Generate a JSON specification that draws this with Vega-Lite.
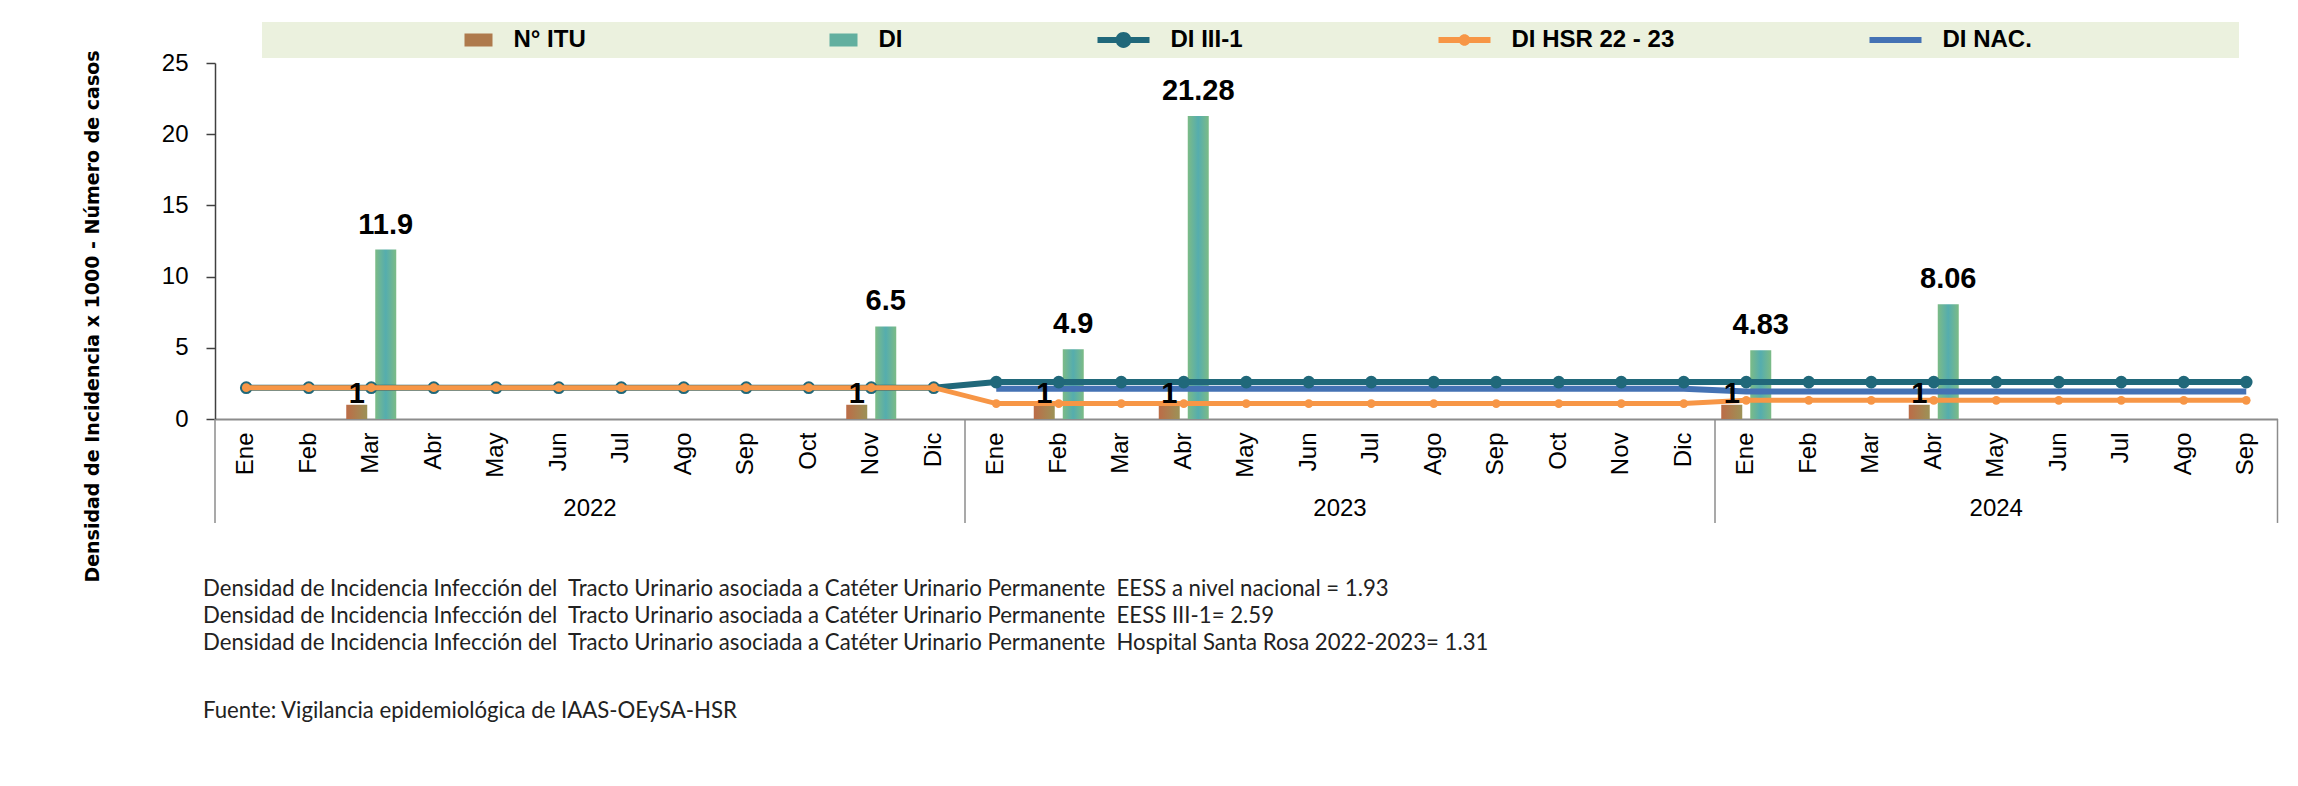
{
  "$schema": "https://vega.github.io/schema/vega-lite/v6.json",
  "autosize": {"type": "none"},
  "padding": {"left": 215, "top": 63, "right": 20, "bottom": 367},
  "width": 2062.5,
  "height": 356,
  "background": "white",
  "config": {
    "view": {"stroke": null},
    "axis": {"grid": false},
    "text": {"font": "Liberation Sans"}
  },
  "title": {
    "text": [
      "Densidad de Incidencia Infección del\u00a0 Tracto Urinario asociada a Catéter Urinario Permanente\u00a0 EESS a nivel nacional = 1.93",
      "Densidad de Incidencia Infección del\u00a0 Tracto Urinario asociada a Catéter Urinario Permanente\u00a0 EESS III-1= 2.59",
      "Densidad de Incidencia Infección del\u00a0 Tracto Urinario asociada a Catéter Urinario Permanente\u00a0 Hospital Santa Rosa 2022-2023= 1.31"
    ],
    "subtitle": "Fuente: Vigilancia epidemiológica de IAAS-OEySA-HSR",
    "orient": "bottom",
    "anchor": "start",
    "frame": "group",
    "offset": -4,
    "baseline": "top",
    "dx": -12,
    "font": "Lato",
    "fontSize": 22.2,
    "fontWeight": "normal",
    "color": "#222222",
    "lineHeight": 27,
    "subtitleFont": "Lato",
    "subtitleFontSize": 22.2,
    "subtitleColor": "#222222",
    "subtitlePadding": 46
  },
  "datasets": {
    "meses": [
      {"m": "2022-01", "iii": 2.2, "hsr": 2.2},
      {"m": "2022-02", "iii": 2.2, "hsr": 2.2},
      {"m": "2022-03", "iii": 2.2, "hsr": 2.2},
      {"m": "2022-04", "iii": 2.2, "hsr": 2.2},
      {"m": "2022-05", "iii": 2.2, "hsr": 2.2},
      {"m": "2022-06", "iii": 2.2, "hsr": 2.2},
      {"m": "2022-07", "iii": 2.2, "hsr": 2.2},
      {"m": "2022-08", "iii": 2.2, "hsr": 2.2},
      {"m": "2022-09", "iii": 2.2, "hsr": 2.2},
      {"m": "2022-10", "iii": 2.2, "hsr": 2.2},
      {"m": "2022-11", "iii": 2.2, "hsr": 2.2},
      {"m": "2022-12", "iii": 2.2, "hsr": 2.2},
      {"m": "2023-01", "iii": 2.59, "hsr": 1.08, "nac": 2.12},
      {"m": "2023-02", "iii": 2.59, "hsr": 1.08, "nac": 2.12},
      {"m": "2023-03", "iii": 2.59, "hsr": 1.08, "nac": 2.12},
      {"m": "2023-04", "iii": 2.59, "hsr": 1.08, "nac": 2.12},
      {"m": "2023-05", "iii": 2.59, "hsr": 1.08, "nac": 2.12},
      {"m": "2023-06", "iii": 2.59, "hsr": 1.08, "nac": 2.12},
      {"m": "2023-07", "iii": 2.59, "hsr": 1.08, "nac": 2.12},
      {"m": "2023-08", "iii": 2.59, "hsr": 1.08, "nac": 2.12},
      {"m": "2023-09", "iii": 2.59, "hsr": 1.08, "nac": 2.12},
      {"m": "2023-10", "iii": 2.59, "hsr": 1.08, "nac": 2.12},
      {"m": "2023-11", "iii": 2.59, "hsr": 1.08, "nac": 2.12},
      {"m": "2023-12", "iii": 2.59, "hsr": 1.08, "nac": 2.12},
      {"m": "2024-01", "iii": 2.59, "hsr": 1.31, "nac": 1.93},
      {"m": "2024-02", "iii": 2.59, "hsr": 1.31, "nac": 1.93},
      {"m": "2024-03", "iii": 2.59, "hsr": 1.31, "nac": 1.93},
      {"m": "2024-04", "iii": 2.59, "hsr": 1.31, "nac": 1.93},
      {"m": "2024-05", "iii": 2.59, "hsr": 1.31, "nac": 1.93},
      {"m": "2024-06", "iii": 2.59, "hsr": 1.31, "nac": 1.93},
      {"m": "2024-07", "iii": 2.59, "hsr": 1.31, "nac": 1.93},
      {"m": "2024-08", "iii": 2.59, "hsr": 1.31, "nac": 1.93},
      {"m": "2024-09", "iii": 2.59, "hsr": 1.31, "nac": 1.93}
    ],
    "barras": [
      {"m": "2022-03", "serie": "N° ITU", "v": 1},
      {"m": "2022-03", "serie": "DI", "v": 11.9},
      {"m": "2022-11", "serie": "N° ITU", "v": 1},
      {"m": "2022-11", "serie": "DI", "v": 6.5},
      {"m": "2023-02", "serie": "N° ITU", "v": 1},
      {"m": "2023-02", "serie": "DI", "v": 4.9},
      {"m": "2023-04", "serie": "N° ITU", "v": 1},
      {"m": "2023-04", "serie": "DI", "v": 21.28},
      {"m": "2024-01", "serie": "N° ITU", "v": 1},
      {"m": "2024-01", "serie": "DI", "v": 4.83},
      {"m": "2024-04", "serie": "N° ITU", "v": 1},
      {"m": "2024-04", "serie": "DI", "v": 8.06}
    ],
    "anios": [
      {"anio": "2022", "ini": "2022-01", "fin": "2022-12", "centro": "2022-07"},
      {"anio": "2023", "ini": "2023-01", "fin": "2023-12", "centro": "2023-07"},
      {"anio": "2024", "ini": "2024-01", "fin": "2024-09", "centro": "2024-05"}
    ]
  },
  "layer": [
    {
      "data": {"name": "barras"},
      "mark": {"type": "bar"},
      "encoding": {
        "x": {
          "field": "m", "type": "ordinal",
          "scale": {
            "domain": ["2022-01","2022-02","2022-03","2022-04","2022-05","2022-06","2022-07","2022-08","2022-09","2022-10","2022-11","2022-12","2023-01","2023-02","2023-03","2023-04","2023-05","2023-06","2023-07","2023-08","2023-09","2023-10","2023-11","2023-12","2024-01","2024-02","2024-03","2024-04","2024-05","2024-06","2024-07","2024-08","2024-09"],
            "paddingInner": 0, "paddingOuter": 0
          },
          "axis": {
            "title": null,
            "labelAngle": 270,
            "labelAlign": "right",
            "labelBaseline": "middle",
            "labelFont": "Liberation Sans",
            "labelFontSize": 24,
            "labelColor": "#000000",
            "labelPadding": 13,
            "ticks": false,
            "tickSize": 0,
            "domainColor": "#8C8C8C",
            "domainWidth": 2,
            "labelOverlap": false,
            "labelBound": false,
            "labelExpr": "['Ene','Feb','Mar','Abr','May','Jun','Jul','Ago','Sep','Oct','Nov','Dic'][toNumber(slice(datum.value,5))-1]"
          }
        },
        "xOffset": {
          "field": "serie", "type": "nominal",
          "scale": {"domain": ["N° ITU", "DI"], "paddingInner": 0.276, "paddingOuter": 0.2155}
        },
        "y": {
          "field": "v", "type": "quantitative",
          "scale": {"domain": [0, 25], "nice": false},
          "axis": {
            "title": "Densidad de Incidencia x 1000 - Número de casos",
            "values": [0, 5, 10, 15, 20, 25],
            "labelFont": "Liberation Sans",
            "labelFontSize": 24,
            "labelColor": "#000000",
            "labelPadding": 18,
            "tickSize": 9,
            "tickColor": "#404040",
            "tickWidth": 1.5,
            "domainColor": "#404040",
            "domainWidth": 1.5,
            "titleFont": "DejaVu Sans",
            "titleFontWeight": "bold",
            "titleFontSize": 19,
            "titleColor": "#000000",
            "titleAngle": 270,
            "titleAlign": "center",
            "titleBaseline": "middle",
            "titleX": -123,
            "titleY": 253
          }
        },
        "fill": {
          "condition": {
            "test": "datum.serie === 'DI'",
            "value": {"gradient": "linear", "x1": 0, "y1": 0, "x2": 1, "y2": 0, "stops": [{"offset": 0, "color": "#7CBB86"}, {"offset": 0.5, "color": "#55ADAE"}, {"offset": 1, "color": "#7CBB86"}]}
          },
          "value": {"gradient": "linear", "x1": 0, "y1": 0, "x2": 1, "y2": 0, "stops": [{"offset": 0, "color": "#BC6C47"}, {"offset": 1, "color": "#9C9257"}]}
        }
      }
    },
    {
      "data": {"name": "anios"},
      "mark": {"type": "rule", "color": "#8C8C8C", "strokeWidth": 1.5},
      "encoding": {
        "x": {"field": "ini", "type": "ordinal", "bandPosition": 0},
        "y": {"datum": 0},
        "y2": {"datum": -7.3}
      }
    },
    {
      "data": {"name": "anios"},
      "transform": [{"filter": "datum.anio == '2024'"}],
      "mark": {"type": "rule", "color": "#8C8C8C", "strokeWidth": 1.5},
      "encoding": {
        "x": {"field": "fin", "type": "ordinal", "bandPosition": 1},
        "y": {"datum": 0},
        "y2": {"datum": -7.3}
      }
    },
    {
      "data": {"name": "anios"},
      "transform": [{"filter": "datum.anio != '2024'"}],
      "mark": {"type": "text", "font": "Liberation Sans", "fontSize": 24, "color": "#000000", "align": "center", "baseline": "middle"},
      "encoding": {
        "x": {"field": "centro", "type": "ordinal", "bandPosition": 0},
        "y": {"datum": -6.3},
        "text": {"field": "anio"}
      }
    },
    {
      "data": {"name": "anios"},
      "transform": [{"filter": "datum.anio == '2024'"}],
      "mark": {"type": "text", "font": "Liberation Sans", "fontSize": 24, "color": "#000000", "align": "center", "baseline": "middle"},
      "encoding": {
        "x": {"field": "centro", "type": "ordinal", "bandPosition": 0.5},
        "y": {"datum": -6.3},
        "text": {"field": "anio"}
      }
    },
    {
      "data": {"name": "meses"},
      "mark": {"type": "line", "color": "#4472B4", "strokeWidth": 6},
      "encoding": {
        "x": {"field": "m", "type": "ordinal"},
        "y": {"field": "nac", "type": "quantitative"}
      }
    },
    {
      "data": {"name": "meses"},
      "mark": {"type": "line", "color": "#20687A", "strokeWidth": 6},
      "encoding": {
        "x": {"field": "m", "type": "ordinal"},
        "y": {"field": "iii", "type": "quantitative"}
      }
    },
    {
      "data": {"name": "meses"},
      "mark": {"type": "point", "filled": true, "opacity": 1, "size": 160, "color": "#20687A"},
      "encoding": {
        "x": {"field": "m", "type": "ordinal"},
        "y": {"field": "iii", "type": "quantitative"}
      }
    },
    {
      "data": {"name": "meses"},
      "mark": {"type": "line", "color": "#F79646", "strokeWidth": 5},
      "encoding": {
        "x": {"field": "m", "type": "ordinal"},
        "y": {"field": "hsr", "type": "quantitative"}
      }
    },
    {
      "data": {"name": "meses"},
      "mark": {"type": "point", "filled": true, "opacity": 1, "size": 75, "color": "#F79646"},
      "encoding": {
        "x": {"field": "m", "type": "ordinal"},
        "y": {"field": "hsr", "type": "quantitative"}
      }
    },
    {
      "data": {"name": "barras"},
      "transform": [{"filter": "datum.serie == 'DI'"}],
      "mark": {"type": "text", "font": "Liberation Sans", "fontSize": 29, "fontWeight": "bold", "color": "#000000", "baseline": "alphabetic", "dy": -16},
      "encoding": {
        "x": {"field": "m", "type": "ordinal"},
        "xOffset": {"field": "serie", "type": "nominal"},
        "y": {"field": "v", "type": "quantitative"},
        "text": {"field": "v", "type": "quantitative"}
      }
    },
    {
      "data": {"name": "barras"},
      "transform": [{"filter": "datum.serie == 'N° ITU'"}],
      "mark": {"type": "text", "font": "Liberation Sans", "fontSize": 29, "fontWeight": "bold", "color": "#000000", "baseline": "alphabetic", "dy": -2},
      "encoding": {
        "x": {"field": "m", "type": "ordinal"},
        "xOffset": {"field": "serie", "type": "nominal"},
        "y": {"field": "v", "type": "quantitative"},
        "text": {"field": "v", "type": "quantitative"}
      }
    },
    {
      "data": {"name": "barras"},
      "transform": [{"filter": "false"}],
      "mark": {"type": "point", "filled": true, "opacity": 1},
      "encoding": {
        "color": {
          "field": "serie", "type": "nominal",
          "scale": {
            "domain": ["N° ITU", "DI", "DI III-1", "DI HSR 22 - 23", "DI NAC."],
            "range": ["#AE7A4C", "#62AF9F", "#20687A", "#F79646", "#4472B4"]
          },
          "legend": {
            "title": "\u00a0",
            "orient": "none",
            "legendX": 47,
            "legendY": -41,
            "direction": "horizontal",
            "fillColor": "#EBF1DE",
            "padding": 6,
            "titleOrient": "left",
            "titleFontSize": 12,
            "titlePadding": 172.5,
            "symbolSize": 576,
            "symbolStrokeWidth": 0,
            "symbolOffset": 14,
            "symbolOpacity": 1,
            "labelOffset": 35,
            "labelFont": "Liberation Sans",
            "labelFontSize": 24,
            "labelFontWeight": "bold",
            "labelColor": "#000000",
            "labelLimit": 1000,
            "columnPadding": 194
          }
        },
        "shape": {
          "field": "serie", "type": "nominal",
          "scale": {
            "domain": ["N° ITU", "DI", "DI III-1", "DI HSR 22 - 23", "DI NAC."],
            "range": [
              "M-2.1667,0H-0.1667Z M11.92,0H11.93Z M-0.1667,-0.55H2.1667V0.55H-0.1667Z",
              "M-2.1667,0H-0.1667Z M5,0H5.01Z M-0.1667,-0.55H2.1667V0.55H-0.1667Z",
              "M9.75,0H9.76Z M-2.1667,-0.25H2.1667V0.25H-2.1667Z M0.66,0A0.66,0.66 0 1 1 -0.66,0A0.66,0.66 0 1 1 0.66,0Z",
              "M-2.1667,-0.25H2.1667V0.25H-2.1667Z M0.48,0A0.48,0.48 0 1 1 -0.48,0A0.48,0.48 0 1 1 0.48,0Z",
              "M28.1,0H28.11Z M-2.1667,-0.25H2.1667V0.25H-2.1667Z"
            ]
          },
          "legend": {
            "title": "\u00a0",
            "orient": "none",
            "legendX": 47,
            "legendY": -41,
            "direction": "horizontal",
            "fillColor": "#EBF1DE",
            "padding": 6,
            "titleOrient": "left",
            "titleFontSize": 12,
            "titlePadding": 172.5,
            "symbolSize": 576,
            "symbolStrokeWidth": 0,
            "symbolOffset": 14,
            "symbolOpacity": 1,
            "labelOffset": 35,
            "labelFont": "Liberation Sans",
            "labelFontSize": 24,
            "labelFontWeight": "bold",
            "labelColor": "#000000",
            "labelLimit": 1000,
            "columnPadding": 194
          }
        }
      }
    }
  ]
}
